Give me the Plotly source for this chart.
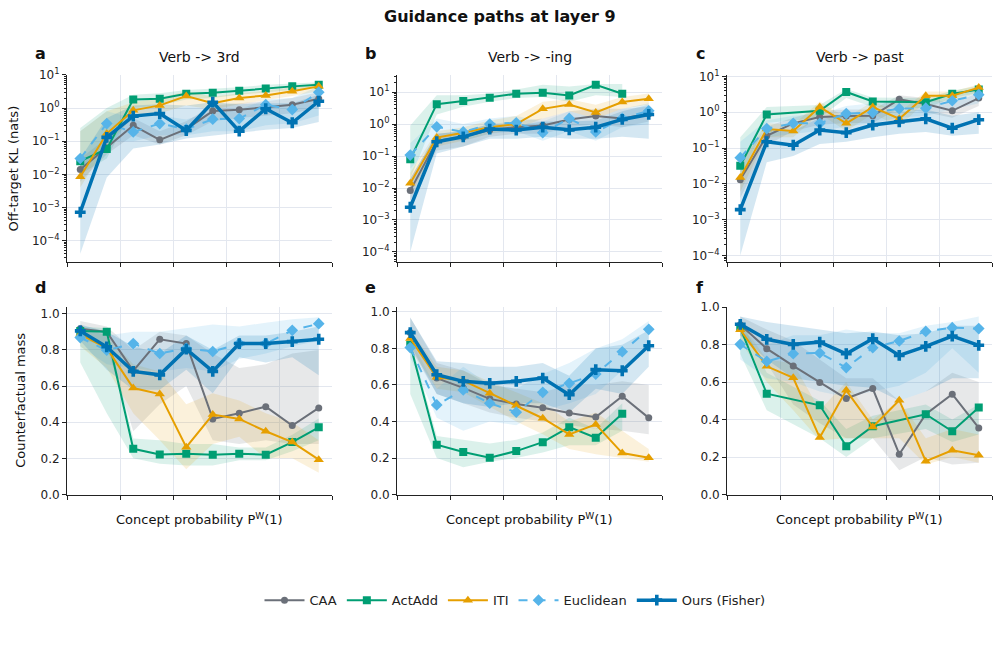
import plotly.graph_objects as go

# ---------------- data ----------------
x_bins = [0.05, 0.15, 0.25, 0.35, 0.45, 0.55, 0.65, 0.75, 0.85, 0.95]
methods = ["CAA", "ActAdd", "ITI", "Euclidean", "Ours (Fisher)"]
panel_titles = ["Verb -> 3rd", "Verb -> -ing", "Verb -> past"]
panel_letters = ["a", "b", "c", "d", "e", "f"]
log_tickvals = [1e-4, 1e-3, 1e-2, 1e-1, 1e0, 1e1]
log_ticktext = ["10<sup>−4</sup>", "10<sup>−3</sup>", "10<sup>−2</sup>", "10<sup>−1</sup>", "10<sup>0</sup>", "10<sup>1</sup>"]
N = None

# Off-target KL (top row): mean, low, high per method
kl_3rd = {
    "CAA": [0.014, 0.063, 0.30, 0.11, 0.23, 0.81, 0.89, 1.05, 1.26, 1.9],
    "ActAdd": [0.025, 0.058, 1.8, 1.9, 2.7, 2.9, 3.3, 3.9, 4.5, 5.0],
    "ITI": [0.0085, 0.17, 0.85, 1.2, 2.3, 1.4, 2.0, 2.4, 3.2, 4.5],
    "Euclidean": [0.03, 0.34, 0.19, 0.34, 0.23, 0.46, 0.48, 1.26, 0.9, 3.0],
    "Ours (Fisher)": [0.00072, 0.13, 0.57, 0.68, 0.21, 1.5, 0.2, 0.95, 0.36, 1.6],
}
kl_3rd_lo = {
    "CAA": [0.006, 0.04, 0.15, 0.08, 0.15, 0.4, 0.5, 0.6, 0.7, 1.0],
    "ActAdd": [0.01, 0.03, 1.0, 1.2, 1.8, 2.0, 2.5, 3.0, 3.5, 4.0],
    "ITI": [0.004, 0.08, 0.5, 0.7, 1.2, 0.9, 1.3, 1.7, 2.3, 3.2],
    "Euclidean": [0.01, 0.1, 0.1, 0.15, 0.15, 0.2, 0.2, 0.3, 0.35, 0.6],
    "Ours (Fisher)": [4e-5, 0.008, 0.06, 0.08, 0.12, 0.15, 0.18, 0.22, 0.25, 0.38],
}
kl_3rd_hi = {
    "CAA": [0.03, 0.12, 0.5, 0.2, 0.4, 1.2, 1.4, 1.6, 2.0, 3.0],
    "ActAdd": [0.25, 1.0, 2.5, 2.8, 3.5, 3.8, 4.2, 5.0, 5.5, 6.0],
    "ITI": [0.2, 0.8, 1.5, 2.0, 3.2, 2.2, 2.8, 3.3, 4.2, 5.8],
    "Euclidean": [0.2, 0.8, 0.5, 0.6, 0.45, 0.8, 0.9, 1.8, 2.0, 4.5],
    "Ours (Fisher)": [0.03, 0.5, 1.2, 1.3, 1.2, 1.5, 1.3, 1.4, 1.4, 2.5],
}

kl_ing = {
    "CAA": [0.0083, 0.3, 0.4, 0.65, 0.8, 0.9, 1.4, 1.8, 1.5, 2.1],
    "ActAdd": [0.08, 4.2, 5.3, 6.7, 8.9, 9.5, 7.9, 17.0, 8.9, N],
    "ITI": [0.014, 0.38, 0.54, 0.8, 1.0, 3.0, 4.1, 2.3, 4.9, 6.2],
    "Euclidean": [0.107, 0.82, 0.57, 1.0, 1.1, 0.54, 1.5, 0.57, 1.5, 2.6],
    "Ours (Fisher)": [0.0025, 0.28, 0.4, 0.7, 0.65, 0.8, 0.66, 0.8, 1.4, 2.0],
}
kl_ing_lo = {
    "CAA": [0.004, 0.15, 0.2, 0.4, 0.5, 0.5, 0.8, 1.0, 0.8, 1.2],
    "ActAdd": [0.02, 2.0, 3.5, 5.0, 6.5, 7.0, 5.0, 8.0, 7.0, N],
    "ITI": [0.006, 0.2, 0.3, 0.5, 0.7, 1.5, 2.5, 1.5, 3.0, 4.0],
    "Euclidean": [0.04, 0.3, 0.3, 0.5, 0.6, 0.3, 0.6, 0.3, 0.8, 1.0],
    "Ours (Fisher)": [1e-4, 0.12, 0.2, 0.35, 0.35, 0.4, 0.35, 0.35, 0.4, 0.35],
}
kl_ing_hi = {
    "CAA": [0.02, 0.5, 0.6, 1.0, 1.2, 1.5, 2.5, 3.0, 3.0, 3.5],
    "ActAdd": [0.9, 8.0, 8.0, 9.0, 12.0, 17.0, 15.0, 18.0, 18.0, N],
    "ITI": [0.03, 0.6, 0.8, 1.3, 1.8, 5.0, 6.0, 4.0, 7.0, 9.0],
    "Euclidean": [0.25, 1.5, 1.0, 1.5, 1.8, 1.2, 2.5, 1.5, 3.0, 4.5],
    "Ours (Fisher)": [0.02, 0.5, 0.6, 1.0, 0.9, 1.2, 1.2, 1.3, 2.5, 4.0],
}

kl_past = {
    "CAA": [0.013, 0.22, 0.49, 0.74, 0.79, 0.8, 2.3, 1.7, 1.1, 2.5],
    "ActAdd": [0.032, 0.87, N, 1.1, 3.7, 2.0, N, 1.9, 3.3, 4.3],
    "ITI": [0.015, 0.34, 0.3, 1.4, 0.49, 1.4, 0.66, 2.9, 2.9, 4.9],
    "Euclidean": [0.054, 0.35, 0.49, 0.49, 0.92, 0.98, 1.26, 1.3, 2.1, 3.1],
    "Ours (Fisher)": [0.0019, 0.15, 0.12, 0.32, 0.27, 0.44, 0.54, 0.66, 0.36, 0.62],
}
kl_past_lo = {
    "CAA": [0.004, 0.12, 0.3, 0.45, 0.5, 0.5, 1.3, 1.0, 0.7, 1.5],
    "ActAdd": [0.015, 0.5, N, 0.7, 2.5, 1.4, N, 1.3, 2.5, 3.5],
    "ITI": [0.006, 0.2, 0.2, 0.9, 0.3, 0.9, 0.4, 2.0, 2.0, 3.5],
    "Euclidean": [0.02, 0.2, 0.25, 0.3, 0.4, 0.5, 0.7, 0.8, 1.2, 1.8],
    "Ours (Fisher)": [1e-4, 0.04, 0.06, 0.13, 0.15, 0.2, 0.25, 0.28, 0.22, 0.25],
}
kl_past_hi = {
    "CAA": [0.04, 0.4, 0.7, 1.1, 1.2, 1.2, 3.0, 2.5, 1.8, 3.5],
    "ActAdd": [0.2, 1.4, N, 1.6, 4.5, 2.6, N, 2.5, 4.0, 5.5],
    "ITI": [0.04, 0.5, 0.45, 2.0, 0.7, 2.0, 1.0, 3.8, 3.8, 6.0],
    "Euclidean": [0.15, 0.6, 0.8, 0.9, 1.5, 1.8, 2.2, 2.2, 3.0, 4.5],
    "Ours (Fisher)": [0.01, 0.35, 0.3, 0.7, 0.8, 1.0, 1.1, 1.2, 0.8, 1.0],
}

# Counterfactual mass (bottom row)
cf_3rd = {
    "CAA": [0.917, 0.9, 0.684, 0.859, 0.835, 0.418, 0.45, 0.486, 0.382, 0.479],
    "ActAdd": [0.905, 0.9, 0.253, 0.222, 0.226, 0.22, 0.226, 0.22, 0.29, 0.372],
    "ITI": [0.886, 0.81, 0.589, 0.556, 0.262, 0.442, 0.418, 0.35, 0.29, 0.193],
    "Euclidean": [0.868, 0.798, 0.835, 0.78, 0.809, 0.791, 0.835, 0.835, 0.908, 0.945],
    "Ours (Fisher)": [0.905, 0.817, 0.681, 0.662, 0.804, 0.681, 0.835, 0.835, 0.846, 0.859],
}
cf_3rd_lo = {
    "CAA": [0.86, 0.82, 0.35, 0.5, 0.6, 0.3, 0.28, 0.3, 0.28, 0.28],
    "ActAdd": [0.73, 0.45, 0.2, 0.17, 0.16, 0.16, 0.19, 0.19, 0.24, 0.3],
    "ITI": [0.82, 0.7, 0.45, 0.3, 0.14, 0.28, 0.32, 0.2, 0.2, 0.12],
    "Euclidean": [0.82, 0.72, 0.7, 0.68, 0.7, 0.68, 0.75, 0.78, 0.82, 0.85],
    "Ours (Fisher)": [0.85, 0.69, 0.58, 0.58, 0.69, 0.56, 0.76, 0.73, 0.76, 0.66],
}
cf_3rd_hi = {
    "CAA": [0.96, 0.93, 0.8, 0.9, 0.88, 0.78, 0.7, 0.72, 0.78, 0.8],
    "ActAdd": [0.93, 0.92, 0.31, 0.3, 0.28, 0.28, 0.26, 0.26, 0.33, 0.42],
    "ITI": [0.93, 0.88, 0.72, 0.68, 0.5, 0.56, 0.52, 0.45, 0.4, 0.3],
    "Euclidean": [0.92, 0.88, 0.9, 0.9, 0.92, 0.94, 0.93, 0.95, 0.97, 0.98],
    "Ours (Fisher)": [0.94, 0.9, 0.82, 0.78, 0.88, 0.8, 0.88, 0.88, 0.9, 0.93],
}

cf_ing = {
    "CAA": [0.887, 0.638, 0.584, 0.524, 0.496, 0.475, 0.447, 0.424, 0.538, 0.42],
    "ActAdd": [0.82, 0.273, 0.233, 0.202, 0.238, 0.287, 0.369, 0.311, 0.442, N],
    "ITI": [0.855, 0.642, 0.624, 0.555, 0.487, 0.418, 0.329, 0.384, 0.227, 0.202],
    "Euclidean": [0.805, 0.491, 0.573, 0.5, 0.451, 0.56, 0.609, 0.66, 0.782, 0.905],
    "Ours (Fisher)": [0.887, 0.656, 0.62, 0.609, 0.62, 0.638, 0.547, 0.684, 0.678, 0.815],
}
cf_ing_lo = {
    "CAA": [0.8, 0.55, 0.5, 0.45, 0.42, 0.4, 0.38, 0.36, 0.35, 0.33],
    "ActAdd": [0.55, 0.2, 0.15, 0.18, 0.2, 0.23, 0.27, 0.27, 0.35, N],
    "ITI": [0.8, 0.58, 0.56, 0.48, 0.4, 0.33, 0.25, 0.22, 0.2, 0.18],
    "Euclidean": [0.75, 0.42, 0.35, 0.4, 0.38, 0.46, 0.5, 0.55, 0.68, 0.8],
    "Ours (Fisher)": [0.82, 0.55, 0.5, 0.48, 0.5, 0.5, 0.45, 0.58, 0.55, 0.7],
}
cf_ing_hi = {
    "CAA": [0.97, 0.72, 0.68, 0.6, 0.58, 0.56, 0.6, 0.6, 0.62, 0.6],
    "ActAdd": [0.85, 0.32, 0.3, 0.28, 0.3, 0.34, 0.42, 0.36, 0.5, N],
    "ITI": [0.9, 0.7, 0.68, 0.62, 0.56, 0.5, 0.4, 0.45, 0.35, 0.25],
    "Euclidean": [0.85, 0.58, 0.7, 0.6, 0.58, 0.66, 0.72, 0.8, 0.85, 0.95],
    "Ours (Fisher)": [0.97, 0.73, 0.72, 0.7, 0.7, 0.72, 0.65, 0.8, 0.82, 0.9],
}

cf_past = {
    "CAA": [0.906, 0.778, 0.686, 0.597, 0.512, 0.565, 0.215, 0.428, 0.535, 0.355],
    "ActAdd": [0.89, 0.538, N, 0.476, 0.258, 0.364, N, 0.428, 0.337, 0.464],
    "ITI": [0.879, 0.684, 0.623, 0.304, 0.556, 0.36, 0.503, 0.178, 0.236, 0.21],
    "Euclidean": [0.801, 0.71, 0.751, 0.755, 0.677, 0.783, 0.819, 0.87, 0.89, 0.885],
    "Ours (Fisher)": [0.908, 0.828, 0.801, 0.813, 0.751, 0.831, 0.742, 0.79, 0.845, 0.796],
}
cf_past_lo = {
    "CAA": [0.85, 0.7, 0.48, 0.38, 0.3, 0.3, 0.13, 0.2, 0.16, 0.17],
    "ActAdd": [0.75, 0.45, N, 0.3, 0.2, 0.3, N, 0.35, 0.28, 0.32],
    "ITI": [0.82, 0.6, 0.45, 0.29, 0.3, 0.3, 0.3, 0.16, 0.2, 0.17],
    "Euclidean": [0.72, 0.62, 0.6, 0.55, 0.52, 0.55, 0.58, 0.65, 0.78, 0.65],
    "Ours (Fisher)": [0.85, 0.72, 0.62, 0.6, 0.58, 0.57, 0.5, 0.55, 0.62, 0.62],
}
cf_past_hi = {
    "CAA": [0.95, 0.88, 0.82, 0.72, 0.62, 0.62, 0.5, 0.55, 0.65, 0.6],
    "ActAdd": [0.94, 0.65, N, 0.5, 0.35, 0.42, N, 0.48, 0.4, 0.48],
    "ITI": [0.92, 0.72, 0.7, 0.45, 0.6, 0.4, 0.5, 0.3, 0.35, 0.32],
    "Euclidean": [0.87, 0.8, 0.85, 0.85, 0.88, 0.86, 0.86, 0.9, 0.92, 0.95],
    "Ours (Fisher)": [0.95, 0.92, 0.9, 0.88, 0.86, 0.87, 0.85, 0.86, 0.9, 0.9],
}

panels = [
    (kl_3rd, kl_3rd_lo, kl_3rd_hi),
    (kl_ing, kl_ing_lo, kl_ing_hi),
    (kl_past, kl_past_lo, kl_past_hi),
    (cf_3rd, cf_3rd_lo, cf_3rd_hi),
    (cf_ing, cf_ing_lo, cf_ing_hi),
    (cf_past, cf_past_lo, cf_past_hi),
]

# ---------------- style ----------------
W, H = 1000, 646
FONT = "DejaVu Sans"
colors = {"CAA": "#6b7079", "ActAdd": "#009E73", "ITI": "#E69F00",
          "Euclidean": "#56B4E9", "Ours (Fisher)": "#0072B2"}
fills = {"CAA": "rgba(107,112,121,0.16)", "ActAdd": "rgba(0,158,115,0.14)",
         "ITI": "rgba(230,159,0,0.14)", "Euclidean": "rgba(86,180,233,0.16)",
         "Ours (Fisher)": "rgba(0,114,178,0.17)"}
symbols = {"CAA": "circle", "ActAdd": "square", "ITI": "triangle-up",
           "Euclidean": "diamond", "Ours (Fisher)": "cross"}
msize = {"CAA": 7, "ActAdd": 8, "ITI": 9, "Euclidean": 9, "Ours (Fisher)": 9}
lwidth = {"CAA": 2, "ActAdd": 2, "ITI": 2, "Euclidean": 2, "Ours (Fisher)": 3.5}
dash = {"CAA": "solid", "ActAdd": "solid", "ITI": "solid", "Euclidean": "dash", "Ours (Fisher)": "solid"}


def py(y):
    # target pixel row -> paper fraction (with small vertical compensation)
    ys = (y - 7.1) / 0.978
    return 1 - ys / H


col_px = [(67, 332), (397, 662), (727, 992)]
row_px = [(73, 261), (306, 494)]
yranges = [[-4.65, 1.005], [-4.32, 1.545], [-4.19, 1.05], [0, 1.037], [0, 1.027], [0, 1.0]]

fig = go.Figure()
grid = "#e3e7ef"

minor_vals = [m * 10 ** e for e in range(-5, 2) for m in range(2, 10)]

for i, (mean, lo, hi) in enumerate(panels):
    r, c = divmod(i, 3)
    ax = "" if i == 0 else str(i + 1)
    xa, ya = "x" + ax, "y" + ax
    # bands
    for m in methods:
        pts = [(x, l, h) for x, l, h in zip(x_bins, lo[m], hi[m]) if l is not None]
        xs = [p[0] for p in pts] + [p[0] for p in reversed(pts)]
        ys = [p[1] for p in pts] + [p[2] for p in reversed(pts)]
        fig.add_trace(go.Scatter(x=xs, y=ys, fill="toself", fillcolor=fills[m],
                                 line=dict(width=0), mode="lines", hoverinfo="skip",
                                 showlegend=False, xaxis=xa, yaxis=ya))
    for m in methods:
        fig.add_trace(go.Scatter(
            x=x_bins, y=mean[m], mode="lines+markers", name=m,
            line=dict(color=colors[m], width=lwidth[m], dash=dash[m]),
            marker=dict(symbol=symbols[m], size=msize[m], color=colors[m]),
            connectgaps=True, showlegend=(i == 0), xaxis=xa, yaxis=ya))

    x0, x1 = col_px[c]
    y0, y1 = row_px[r]
    xdict = dict(domain=[x0 / W, x1 / W], range=[0, 1], tickvals=[0, 0.2, 0.4, 0.6, 0.8, 1.0],
                 showticklabels=False, ticks="outside", ticklen=4, tickcolor="#222",
                 showline=True, linecolor="#222", linewidth=1, gridcolor=grid, gridwidth=1,
                 zeroline=False, anchor=ya, mirror=False)
    ydict = dict(domain=[py(y1), py(y0)], ticks="outside", ticklen=4, tickcolor="#222",
                 showline=True, linecolor="#222", linewidth=1, gridcolor=grid, gridwidth=1,
                 zeroline=False, anchor=xa, tickfont=dict(size=12, color="#222", family=FONT))
    if r == 0:
        ydict.update(type="log", range=yranges[i], tickmode="array", tickvals=log_tickvals,
                     ticktext=log_ticktext,
                     minor=dict(tickmode="array", tickvals=minor_vals, ticks="outside",
                                ticklen=2, tickcolor="#222", showgrid=False))
    else:
        ydict.update(range=yranges[i], tickvals=[0, 0.2, 0.4, 0.6, 0.8, 1.0], tickformat=".1f")
    fig.layout["xaxis" + ax] = xdict
    fig.layout["yaxis" + ax] = ydict


def ann(text, xp, yp, size, angle=0):
    return dict(text=text, x=xp / W, y=py(yp), xref="paper", yref="paper",
                showarrow=False, xanchor="center", yanchor="middle", textangle=angle,
                font=dict(size=size, family=FONT, color="#111"))


annotations = [ann("<b>Guidance paths at layer 9</b>", 500, 15, 16)]
for c in range(3):
    x0, x1 = col_px[c]
    annotations.append(ann(panel_titles[c], (x0 + x1) / 2, 55, 14))
    annotations.append(ann("<b>" + panel_letters[c] + "</b>", x0 - 27, 52, 16))
    annotations.append(ann("<b>" + panel_letters[c + 3] + "</b>", x0 - 27, 286, 16))
    annotations.append(ann("Concept probability P<sup>W</sup>(1)", (x0 + x1) / 2, 519, 13))
annotations.append(ann("Off-target KL (nats)", 13, 167, 13, -90))
annotations.append(ann("Counterfactual mass", 21, 400, 13, -90))

fig.update_layout(
    width=W, height=H, margin=dict(l=0, r=0, t=0, b=0),
    paper_bgcolor="white", plot_bgcolor="white",
    font=dict(family=FONT, size=12, color="#222"),
    annotations=annotations,
    legend=dict(orientation="h", x=0.515, y=py(600), xanchor="center", yanchor="middle",
                font=dict(size=13, family=FONT, color="#222"), itemwidth=40,
                bgcolor="rgba(0,0,0,0)"),
)

fig.write_html("out.html")
